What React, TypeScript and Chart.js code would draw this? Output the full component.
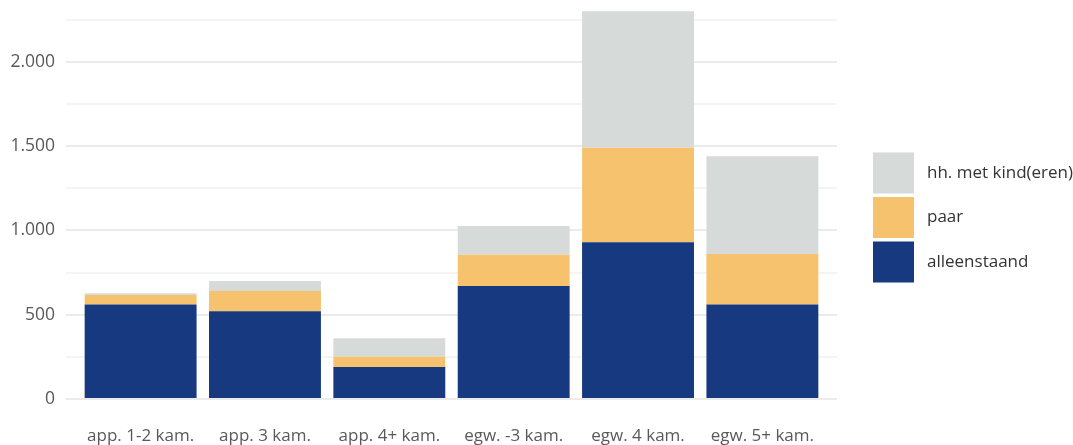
import { useEffect, useRef } from "react";
import { Chart, registerables } from "chart.js";

Chart.register(...registerables);

// Woningtype categories
const categories = [
  "app. 1-2 kam.",
  "app. 3 kam.",
  "app. 4+ kam.",
  "egw. -3 kam.",
  "egw. 4 kam.",
  "egw. 5+ kam.",
];

// Households per woningtype, by household composition
const alleenstaand = [560, 520, 190, 670, 930, 560];
const paar = [57, 120, 60, 186, 560, 300];
const metKinderen = [10, 60, 110, 170, 810, 580];

const seriesLabels = ["alleenstaand", "paar", "hh. met kind(eren)"];
const seriesColors = ["#16397f", "#f6c26e", "#d6dad9"];

// Gridlines every 250, labels on every 500
const yGridValues = [0, 250, 500, 750, 1000, 1250, 1500, 1750, 2000, 2250];

const FONT = "'Open Sans', 'Noto Sans', sans-serif";

function formatNl(v: number): string {
  return String(v).replace(/\B(?=(\d{3})+(?!\d))/g, ".");
}

const sideLegend = {
  id: "sideLegend",
  afterDraw(chart: any) {
    const { ctx, chartArea } = chart;
    const datasets = chart.data.datasets;
    const box = 41;
    const step = 44.5;
    const x0 = chartArea.right + 36;
    const y0 = 152.5;
    ctx.save();
    ctx.font = `17px ${FONT}`;
    ctx.textBaseline = "middle";
    ctx.textAlign = "left";
    // reverse order: top of stack first
    for (let k = 0; k < datasets.length; k++) {
      const ds = datasets[datasets.length - 1 - k];
      const y = y0 + k * step;
      ctx.fillStyle = ds.backgroundColor;
      ctx.fillRect(x0, y, box, box);
      ctx.fillStyle = "#333333";
      ctx.fillText(ds.label, x0 + box + 13, y + box / 2);
    }
    ctx.restore();
  },
};

export default function App() {
  const canvasRef = useRef<HTMLCanvasElement | null>(null);

  useEffect(() => {
    if (!canvasRef.current) return;
    const values = [alleenstaand, paar, metKinderen];
    const chart = new Chart(canvasRef.current, {
      type: "bar",
      data: {
        datasets: values.map((arr, s) => ({
          label: seriesLabels[s],
          data: arr.map((v, i) => ({ x: i, y: v })),
          backgroundColor: seriesColors[s],
          borderWidth: 0,
          categoryPercentage: 1,
          barPercentage: 0.9,
        })),
      },
      options: {
        responsive: false,
        animation: false,
        layout: { padding: { top: 2, right: 236, left: 0, bottom: 0 } },
        plugins: {
          legend: { display: false },
          tooltip: { enabled: false },
        },
        scales: {
          x: {
            type: "linear",
            stacked: true,
            offset: false,
            min: -0.6,
            max: 5.6,
            afterBuildTicks: (scale: any) => {
              scale.ticks = categories.map((_, i) => ({ value: i }));
            },
            afterFit: (scale: any) => {
              scale.height = 46;
            },
            grid: { display: false, drawTicks: false, offset: false },
            border: { display: false },
            ticks: {
              autoSkip: false,
              maxRotation: 0,
              padding: 29,
              color: "#595959",
              font: { family: FONT, size: 17, lineHeight: 1 },
              callback: (v: any) => categories[Number(v)] ?? "",
            },
          },
          y: {
            type: "linear",
            stacked: true,
            min: 0,
            max: 2355,
            afterBuildTicks: (scale: any) => {
              scale.ticks = yGridValues.map((v) => ({ value: v }));
            },
            afterFit: (scale: any) => {
              scale.width = 66;
              scale.paddingTop = 0;
              scale.paddingBottom = 0;
            },
            grid: {
              drawTicks: false,
              lineWidth: 2,
              color: (c: any) =>
                c.tick && c.tick.value % 500 === 0 ? "#ebebeb" : "#f4f4f4",
            },
            border: { display: false },
            ticks: {
              padding: 11,
              color: "#595959",
              font: { family: FONT, size: 17.5 },
              callback: (v: any) => (Number(v) % 500 === 0 ? formatNl(Number(v)) : ""),
            },
          },
        },
      },
      plugins: [sideLegend],
    });
    return () => chart.destroy();
  }, []);

  return (
    <div style={{ position: "fixed", left: 0, top: 0, width: 1073, height: 445, background: "#ffffff" }}>
      <canvas ref={canvasRef} width={1073} height={445} />
    </div>
  );
}
